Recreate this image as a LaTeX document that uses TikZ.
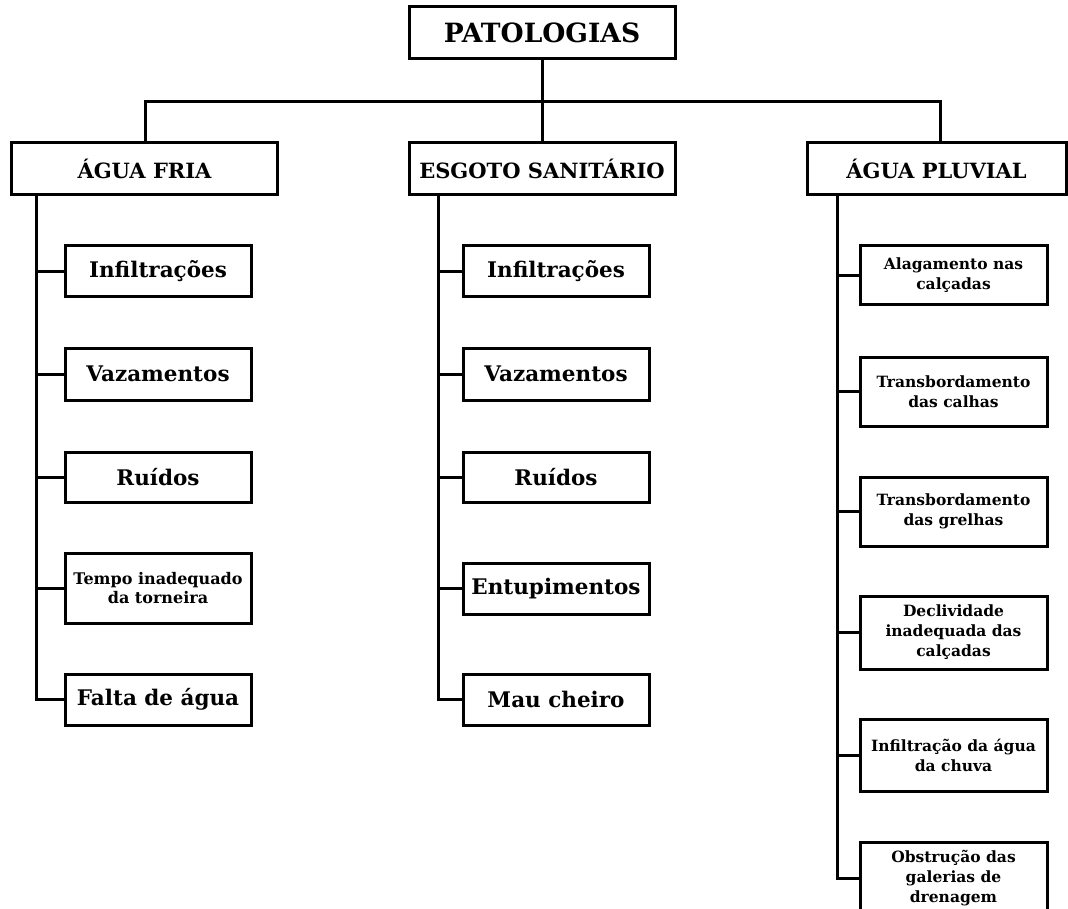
\documentclass[tikz,border=0pt]{standalone}
\usepackage{fontspec}
\setmainfont{DejaVu Serif}
\begin{document}
\begin{tikzpicture}[x=1pt,y=-1pt,
  box/.style={draw=black,line width=3pt,rectangle,inner sep=0pt,align=center,font=\bfseries},
  link/.style={draw=black,line width=3pt},
  topbox/.style={box,minimum width=266pt,minimum height=52pt,font=\bfseries\fontsize{26.5}{30}\selectfont},
  catbox/.style={box,minimum width=266pt,minimum height=52pt,font=\bfseries\fontsize{21}{24}\selectfont},
  itembox/.style={box,minimum width=186pt,font=\bfseries\fontsize{21.5}{24}\selectfont},
  smallbox/.style={box,minimum width=186pt,font=\bfseries\fontsize{16}{19.5}\selectfont},
  rbox/.style={box,minimum width=187pt,font=\bfseries\fontsize{15.5}{20}\selectfont}]
\useasboundingbox[fill=white] (0,0) rectangle (1068,909);
\begin{scope}
\clip (0,0) rectangle (1068,909);
% top
\node[topbox] (pat) at (542,33) {PATOLOGIAS};
\coordinate (bus) at (542,102);
\coordinate (busL) at (145,102);
\coordinate (busR) at (940,102);
% categories
\node[catbox] (fria) at (144.5,169) {ÁGUA FRIA};
\node[catbox] (esg) at (542,169) {ESGOTO SANITÁRIO};
\node[catbox,minimum width=259pt] (pluv) at (936.5,169) {ÁGUA PLUVIAL};
\draw[link] (pat.south) -- (bus);
\draw[link,line cap=rect] (busL) -- (busR);
\draw[link] (bus) -- (esg.north);
\draw[link] (busL) -- (busL |- fria.north);
\draw[link] (busR) -- (busR |- pluv.north);
% trunks
\coordinate (tL) at (36,195);
\coordinate (tM) at (438,195);
\coordinate (tR) at (837,195);
% left column
\node[itembox,minimum height=51pt] (l1) at (158,271.5) {Infiltrações};
\node[itembox,minimum height=52pt] (l2) at (158,374) {Vazamentos};
\node[itembox,minimum height=50pt] (l3) at (158,477) {Ruídos};
\node[smallbox,minimum height=70pt] (l4) at (158,588) {Tempo inadequado\\da torneira};
\node[itembox,minimum height=51pt] (l5) at (158,699.5) {Falta de água};
\foreach \n in {l1,l2,l3,l4,l5} \draw[link] (tL) |- (\n.west);
% middle column
\node[itembox,minimum height=51pt] (m1) at (556,271.5) {Infiltrações};
\node[itembox,minimum height=52pt] (m2) at (556,374) {Vazamentos};
\node[itembox,minimum height=50pt] (m3) at (556,477) {Ruídos};
\node[itembox,minimum height=51pt] (m4) at (556,588.5) {Entupimentos};
\node[itembox,minimum height=51pt] (m5) at (556,699.5) {Mau cheiro};
\foreach \n in {m1,m2,m3,m4,m5} \draw[link] (tM) |- (\n.west);
% right column
\node[rbox,minimum height=59pt] (r1) at (953.5,275.5) {Alagamento nas\\calçadas};
\node[rbox,minimum height=69pt] (r2) at (953.5,391.5) {Transbordamento\\das calhas};
\node[rbox,minimum height=69pt] (r3) at (953.5,511.5) {Transbordamento\\das grelhas};
\node[rbox,minimum height=73pt] (r4) at (953.5,632.5) {Declividade\\inadequada das\\calçadas};
\node[rbox,minimum height=72pt] (r5) at (953.5,755) {Infiltração da água\\da chuva};
\node[rbox,minimum height=72pt,anchor=north] (r6) at (953.5,841) {Obstrução das\\galerias de\\drenagem};
\foreach \n in {r1,r2,r3,r4,r5,r6} \draw[link] (tR) |- (\n.west);
\end{scope}
\end{tikzpicture}
\end{document}
